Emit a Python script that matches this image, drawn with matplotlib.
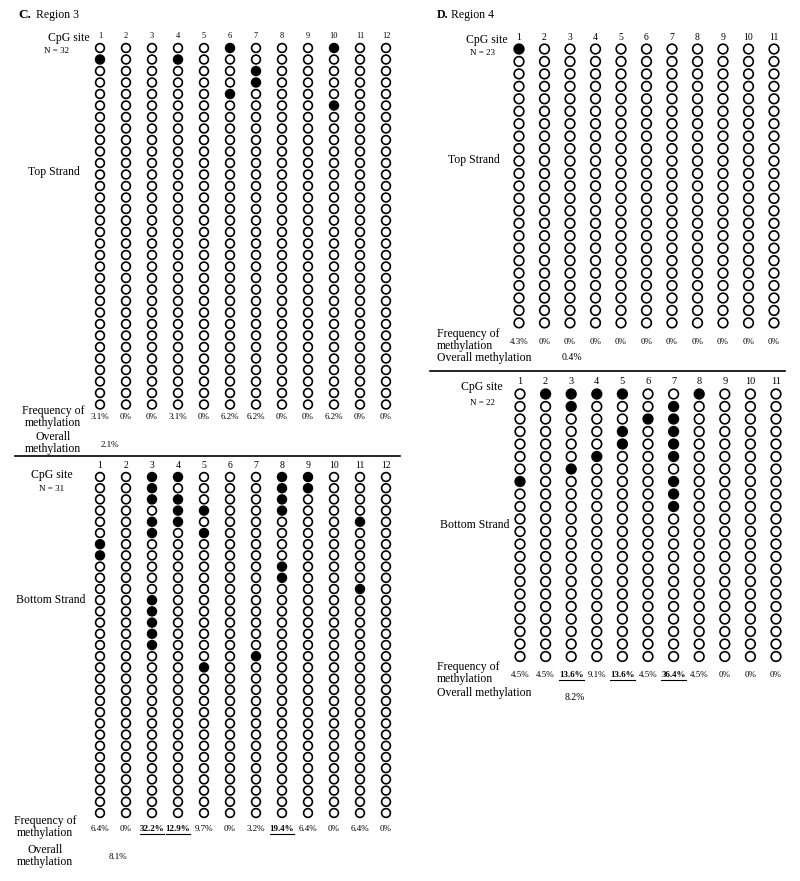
import numpy as np
import matplotlib
matplotlib.use('Agg')
from matplotlib import pyplot as plt

plt.rcParams['font.family'] = ['Liberation Serif', 'DejaVu Serif']

# Region 3 top strand: methylated clone indices for each CpG site
r3_top_n = 32
r3_top_meth = [[1], [], [], [1], [], [0, 4], [2, 3], [], [], [0, 5], [], []]
r3_top_freq = ['3.1%', '0%', '0%', '3.1%', '0%', '6.2%', '6.2%', '0%', '0%', '6.2%', '0%', '0%']
r3_top_overall = '2.1%'

# Region 3 bottom strand
r3_bot_n = 31
r3_bot_meth = [[6, 7], [], [0, 1, 2, 4, 5, 11, 12, 13, 14, 15], [0, 2, 3, 4], [3, 5, 17], [],
               [16], [0, 1, 2, 3, 8, 9], [0, 1], [], [4, 10], []]
r3_bot_freq = ['6.4%', '0%', '32.2%', '12.9%', '9.7%', '0%', '3.2%', '19.4%', '6.4%', '0%', '6.4%', '0%']
r3_bot_bold = [3, 4, 8]
r3_bot_overall = '8.1%'

# Region 4 top strand
r4_top_n = 23
r4_top_meth = [[0], [], [], [], [], [], [], [], [], [], []]
r4_top_freq = ['4.3%', '0%', '0%', '0%', '0%', '0%', '0%', '0%', '0%', '0%', '0%']
r4_top_overall = '0.4%'

# Region 4 bottom strand
r4_bot_n = 22
r4_bot_meth = [[7], [0], [0, 1, 6], [0, 5], [0, 3, 4], [2], [1, 2, 3, 4, 5, 7, 8, 9], [0], [], [], []]
r4_bot_freq = ['4.5%', '4.5%', '13.6%', '9.1%', '13.6%', '4.5%', '36.4%', '4.5%', '0%', '0%', '0%']
r4_bot_bold = [3, 5, 7]
r4_bot_overall = '8.2%'

fig = plt.figure(figsize=(8, 8.81), dpi=100)
ax = fig.add_axes([0, 0, 1, 1])
ax.set_xlim(0, 800)
ax.set_ylim(881, 0)
ax.axis('off')

underlined = []


def draw_grid(meth, n, x0, dx, y0, dy, size, numy, numsize):
    sites = np.arange(1, len(meth) + 1)
    xs = x0 + dx * (sites - 1)
    for i, s in enumerate(sites):
        rows = np.arange(n)
        filled = np.isin(rows, meth[i])
        ys = y0 + dy * rows
        ax.scatter(np.full(n, xs[i]), ys, s=size, c=np.where(filled, 'black', 'white'),
                   edgecolors='black', linewidths=1.2, zorder=3)
        ax.text(xs[i], numy, str(s), ha='center', va='center', fontsize=numsize)
    return xs


def draw_freq(xs, freq, y, bold=()):
    for i, f in enumerate(freq):
        if i + 1 in bold:
            t = ax.text(xs[i], y, f, ha='center', va='center', fontsize=6.5, fontweight='bold')
            underlined.append(t)
        else:
            ax.text(xs[i], y, f, ha='center', va='center', fontsize=6.5)


# ---- Panel C ----
ax.text(18, 15, 'C.', fontsize=9.5, fontweight='bold', va='center')
ax.text(36, 15, 'Region 3', fontsize=8.5, va='center')

xs = draw_grid(r3_top_meth, r3_top_n, 100, 26.0, 48, 11.5, 40, 36, 6)
ax.text(90, 38, 'CpG site', fontsize=8.5, ha='right', va='center')
ax.text(56, 51, 'N = 32', fontsize=6.5, ha='center', va='center')
ax.text(54, 172, 'Top Strand', fontsize=8.5, ha='center', va='center')
ax.text(53, 417, 'Frequency of\nmethylation', fontsize=8.5, ha='center', va='center', linespacing=0.95)
draw_freq(xs, r3_top_freq, 417)
ax.text(53, 443, 'Overall\nmethylation', fontsize=8.5, ha='center', va='center', linespacing=0.95)
ax.text(110, 445, r3_top_overall, fontsize=6.5, ha='center', va='center')
ax.plot([15, 400], [456, 456], color='black', lw=1.2)

xs = draw_grid(r3_bot_meth, r3_bot_n, 100, 26.0, 477, 11.2, 40, 465, 7)
ax.text(52, 475, 'CpG site', fontsize=8.5, ha='center', va='center')
ax.text(52, 489, 'N = 31', fontsize=6.5, ha='center', va='center')
ax.text(51, 600, 'Bottom Strand', fontsize=8.5, ha='center', va='center')
ax.text(45, 827, 'Frequency of\nmethylation', fontsize=8.5, ha='center', va='center', linespacing=0.95)
draw_freq(xs, r3_bot_freq, 829, r3_bot_bold)
ax.text(45, 856, 'Overall\nmethylation', fontsize=8.5, ha='center', va='center', linespacing=0.95)
ax.text(118, 857, r3_bot_overall, fontsize=6.5, ha='center', va='center')

# ---- Panel D ----
ax.text(437, 15, 'D.', fontsize=8.5, fontweight='bold', va='center')
ax.text(451, 15, 'Region 4', fontsize=8.5, va='center')

xs = draw_grid(r4_top_meth, r4_top_n, 519, 25.5, 49, 12.45, 48, 37, 7)
ax.text(508, 40, 'CpG site', fontsize=8.5, ha='right', va='center')
ax.text(482, 53, 'N = 23', fontsize=6.5, ha='center', va='center')
ax.text(474, 160, 'Top Strand', fontsize=8.5, ha='center', va='center')
ax.text(437, 340, 'Frequency of\nmethylation', fontsize=8.5, ha='left', va='center', linespacing=0.95)
draw_freq(xs, r4_top_freq, 342)
ax.text(437, 358, 'Overall methylation', fontsize=8.5, ha='left', va='center')
ax.text(572, 358, r4_top_overall, fontsize=7, ha='center', va='center')
ax.plot([430, 785], [371, 371], color='black', lw=1.2)

xs = draw_grid(r4_bot_meth, r4_bot_n, 520, 25.6, 394, 12.5, 48, 382, 7.5)
ax.text(503, 387, 'CpG site', fontsize=8.5, ha='right', va='center')
ax.text(482, 403, 'N = 22', fontsize=6.5, ha='center', va='center')
ax.text(475, 525, 'Bottom Strand', fontsize=8.5, ha='center', va='center')
ax.text(437, 673, 'Frequency of\nmethylation', fontsize=8.5, ha='left', va='center', linespacing=0.95)
draw_freq(xs, r4_bot_freq, 675, r4_bot_bold)
ax.text(437, 693, 'Overall methylation', fontsize=8.5, ha='left', va='center')
ax.text(575, 697, r4_bot_overall, fontsize=7, ha='center', va='center')

# underline the bold frequencies
fig.canvas.draw()
renderer = fig.canvas.get_renderer()
inv = ax.transData.inverted()
for t in underlined:
    bb = t.get_window_extent(renderer)
    (x1, y1), (x2, y2) = inv.transform([[bb.x0, bb.y0], [bb.x1, bb.y0]])
    ax.plot([x1, x2], [y1 + 0.5, y2 + 0.5], color='black', lw=0.8)

plt.savefig('out.png', dpi=100)
